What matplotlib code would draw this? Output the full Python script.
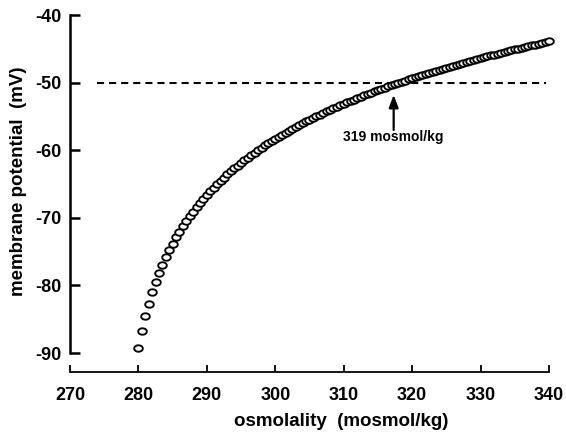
import matplotlib
matplotlib.use('Agg')
import matplotlib.pyplot as plt
import numpy as np
from matplotlib.path import Path

plt.rcParams['font.family'] = ['Liberation Sans', 'DejaVu Sans']
plt.rcParams['font.weight'] = 'bold'
plt.rcParams['axes.unicode_minus'] = False

# osmolality (mosmol/kg), one point every 0.5
osmolality = np.arange(280, 340.5, 0.5)

# membrane potential (mV)
potential = [
    -89.30, -86.73, -84.56, -82.67, -81.01, -79.53, -78.18, -76.96, -75.83, -74.78,
    -73.81, -72.90, -72.05, -71.24, -70.48, -69.75, -69.07, -68.41, -67.78, -67.18,
    -66.61, -66.05, -65.52, -65.01, -64.51, -64.04, -63.57, -63.13, -62.69, -62.27,
    -61.86, -61.47, -61.08, -60.70, -60.34, -59.98, -59.63, -59.29, -58.96, -58.64,
    -58.32, -58.01, -57.71, -57.41, -57.12, -56.83, -56.55, -56.28, -56.01, -55.75,
    -55.49, -55.24, -54.99, -54.74, -54.50, -54.26, -54.03, -53.80, -53.58, -53.35,
    -53.13, -52.92, -52.71, -52.50, -52.29, -52.09, -51.89, -51.69, -51.50, -51.31,
    -51.12, -50.93, -50.75, -50.56, -50.38, -50.21, -50.03, -49.86, -49.69, -49.52,
    -49.35, -49.19, -49.02, -48.86, -48.70, -48.55, -48.39, -48.24, -48.08, -47.93,
    -47.78, -47.64, -47.49, -47.35, -47.20, -47.06, -46.92, -46.78, -46.64, -46.51,
    -46.37, -46.24, -46.11, -45.98, -45.85, -45.72, -45.59, -45.46, -45.34, -45.21,
    -45.09, -44.97, -44.85, -44.73, -44.61, -44.49, -44.37, -44.26, -44.14, -44.03,
    -43.91,
]

threshold = -50
threshold_span = (273.9, 339.5)
marked_osmolality = 317.3
arrow_from = -57.0
arrow_to = -51.8
label_text = '319 mosmol/kg'

x_ticks = [270, 280, 290, 300, 310, 320, 330, 340]
y_ticks = [-90, -80, -70, -60, -50, -40]

# slightly flattened circle, like the scanned markers
t = np.linspace(0, 2 * np.pi, 41)
ellipse = Path(np.column_stack([np.cos(t), 0.75 * np.sin(t)]), closed=True)

fig = plt.figure(figsize=(5.66, 4.36), dpi=100)
ax = fig.add_axes([70 / 566, 64 / 436, 479 / 566, 357 / 436])

ax.hlines(threshold, *threshold_span, colors='black', linewidth=1.5,
          linestyles=(0, (3.4, 2.4)))

ax.plot(osmolality, potential, linestyle='none', marker=ellipse, markersize=6.2,
        markerfacecolor='white', markeredgecolor='black', markeredgewidth=1.35,
        clip_on=False, zorder=3)

ax.annotate('', xy=(marked_osmolality, arrow_to), xytext=(marked_osmolality, arrow_from),
            arrowprops=dict(arrowstyle='-|>,head_length=0.75,head_width=0.28',
                            color='black', lw=1.6, shrinkA=0, shrinkB=0))
ax.text(marked_osmolality, -58.05, label_text, ha='center', va='center', fontsize=10,
        fontweight='bold')

ax.set_xlim(270, 340)
ax.set_ylim(-92.8, -40)

for side in ['top', 'right']:
    ax.spines[side].set_visible(False)
ax.spines['left'].set_bounds(-90, -40)
ax.spines['left'].set_linewidth(1.8)
ax.spines['bottom'].set_bounds(270, 340)
ax.spines['bottom'].set_linewidth(1.3)

ax.set_xticks(x_ticks)
ax.set_yticks(y_ticks)
ax.tick_params(axis='y', direction='in', length=7, width=1.8, pad=6, labelsize=13)
ax.tick_params(axis='x', direction='in', length=5, width=1.3, pad=11, labelsize=13)

ax.set_xlabel('osmolality  (mosmol/kg)', fontsize=13.5, fontweight='bold')
ax.set_ylabel('membrane potential  (mV)', fontsize=13.5, fontweight='bold')
ax.xaxis.set_label_coords(0.566, -0.115)
ax.yaxis.set_label_coords(-0.09, 0.535)

fig.savefig('out.png', dpi=100)
